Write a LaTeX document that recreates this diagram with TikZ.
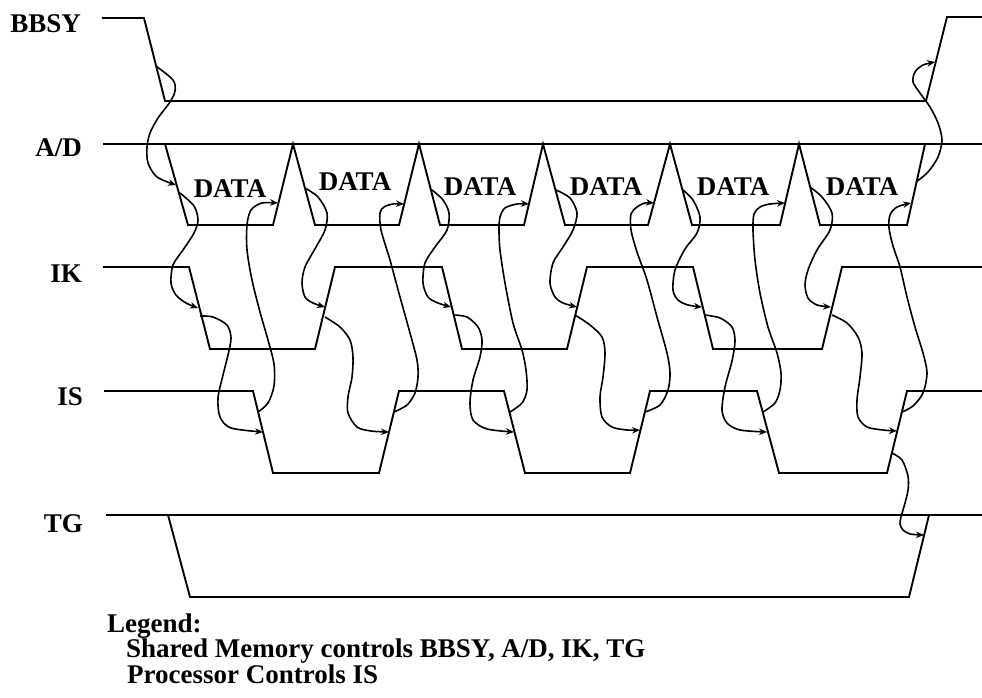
\documentclass[tikz,border=0pt]{standalone}
\usepackage{fontspec}
\setmainfont{Liberation Serif}
\usetikzlibrary{arrows.meta}
\begin{document}
\begin{tikzpicture}[x=1pt,y=-1pt,
  sig/.style={line width=1.9pt, line join=miter},
  cause/.style={line width=1.6pt, -{Stealth[length=8pt,width=6.5pt]}},
  txt/.style={font=\fontsize{27}{28}\selectfont\bfseries, inner sep=0pt},
  lbl/.style={txt, anchor=base east},
  dat/.style={txt, anchor=base},
  leg/.style={txt, anchor=base west}]
\useasboundingbox (0,0) rectangle (982,698);

% ---- signal labels
\node[lbl] (lBBSY) at (81,33) {BBSY};
\node[lbl] (lAD) at (82,157) {A/D};
\node[lbl] (lIK) at (82,282) {IK};
\node[lbl] (lIS) at (83,405) {IS};
\node[lbl] (lTG) at (83,532) {TG};

% ---- BBSY
\draw[sig] (102,18) -- (144,18) -- (165,101) -- (926,101) -- (947,17) -- (982,17);

% ---- A/D
\draw[sig] (103,144) -- (982,144);
\draw[sig] (165,144) -- (188,225) -- (273,225) -- (293,144) -- (315,225) -- (399,225)
  -- (419,144) -- (440,225) -- (524,225) -- (543,144) -- (565,225) -- (648,225)
  -- (670,144) -- (692,225) -- (780,225) -- (799,144) -- (820,225) -- (907,225) -- (925,144);
\node[dat] (d1) at (230,197) {DATA};
\node[dat] (d2) at (355,190) {DATA};
\node[dat] (d3) at (480,195) {DATA};
\node[dat] (d4) at (606,195) {DATA};
\node[dat] (d5) at (733,195) {DATA};
\node[dat] (d6) at (862,195) {DATA};

% ---- IK
\draw[sig] (103,267) -- (189,267) -- (210,349) -- (315,349) -- (335,267) -- (442,267)
  -- (462,349) -- (567,349) -- (587,267) -- (693,267) -- (713,349) -- (822,349)
  -- (842,267) -- (982,267);

% ---- IS
\draw[sig] (104,391) -- (253,391) -- (273,473) -- (379,473) -- (399,391) -- (504,391)
  -- (525,473) -- (630,473) -- (650,391) -- (757,391) -- (779,473) -- (887,473)
  -- (907,391) -- (982,391);

% ---- TG
\draw[sig] (106,515) -- (982,515);
\draw[sig] (168,515) -- (190,597) -- (909,597) -- (929,515);

% ---- causal arrows: start/end points on the edges
\coordinate (s1) at (156,66);   \coordinate (t1) at (176,185);
\coordinate (s2) at (180,193);  \coordinate (t2) at (198,308);
\coordinate (s3) at (200,316);  \coordinate (t3) at (263,432);
\coordinate (s4) at (258,412);  \coordinate (t4) at (278,203);
\coordinate (s5) at (305,188);  \coordinate (t5) at (325,307);
\coordinate (s6) at (325,317);  \coordinate (t6) at (389,432);
\coordinate (s7) at (394,412);  \coordinate (t7) at (404,204);
\coordinate (s8) at (432,190);  \coordinate (t8) at (451,307);
\coordinate (s9) at (454,315);  \coordinate (t9) at (514,432);
\coordinate (s10) at (510,412); \coordinate (t10) at (529,204);
\coordinate (s11) at (556,190); \coordinate (t11) at (577,307);
\coordinate (s12) at (575,315); \coordinate (t12) at (640,430);
\coordinate (s13) at (645,412); \coordinate (t13) at (654,203);
\coordinate (s14) at (683,190); \coordinate (t14) at (702,307);
\coordinate (s15) at (705,315); \coordinate (t15) at (767,432);
\coordinate (s16) at (763,412); \coordinate (t16) at (785,203);
\coordinate (s17) at (810,187); \coordinate (t17) at (831,307);
\coordinate (s18) at (832,315); \coordinate (t18) at (897,431);
\coordinate (s19) at (902,412); \coordinate (t19) at (911,203);
\coordinate (s20) at (916,182); \coordinate (t20) at (935,62);
\coordinate (s21) at (892,453); \coordinate (t21) at (924,535);

\draw[cause] plot[smooth] coordinates {(s1) (173,80) (175,91) (170,102) (158,118) (150,133) (147,147) (148,163) (157,177) (t1)};
\draw[cause] plot[smooth] coordinates {(s2) (194,206) (198,220) (194,233) (183,250) (173,265) (171,283) (176,295) (186,303) (t2)};
\draw[cause] plot[smooth] coordinates {(s3) (213,317) (227,325) (231,338) (228,355) (223,375) (218,398) (220,417) (231,428) (t3)};
\draw[cause] plot[smooth] coordinates {(s4) (268,403) (274,386) (274,364) (268,340) (260,312) (252,280) (247,250) (247,225) (251,210) (262,203) (t4)};
\draw[cause] plot[smooth] coordinates {(s5) (318,197) (327,213) (325,230) (316,247) (305,267) (302,283) (305,297) (313,303) (t5)};
\draw[cause] plot[smooth] coordinates {(s6) (340,327) (350,340) (353,357) (352,377) (348,397) (348,413) (357,427) (371,431) (t6)};
\draw[cause] plot[smooth] coordinates {(s7) (407,405) (415,393) (418,377) (417,360) (410,333) (400,297) (390,260) (381,230) (380,213) (384,207) (393,204) (t7)};
\draw[cause] plot[smooth] coordinates {(s8) (443,200) (449,213) (447,230) (435,247) (425,263) (423,283) (428,297) (438,303) (t8)};
\draw[cause] plot[smooth] coordinates {(s9) (467,317) (478,327) (482,340) (480,357) (473,380) (470,403) (473,420) (487,429) (t9)};
\draw[cause] plot[smooth] coordinates {(s10) (522,403) (527,390) (526,370) (522,350) (513,323) (505,283) (500,250) (499,230) (500,217) (505,208) (517,204) (t10)};
\draw[cause] plot[smooth] coordinates {(s11) (570,198) (577,213) (573,230) (563,247) (553,263) (550,283) (555,297) (563,303) (t11)};
\draw[cause] plot[smooth] coordinates {(s12) (590,325) (602,337) (605,353) (603,377) (600,397) (602,417) (612,427) (627,430) (t12)};
\draw[cause] plot[smooth] coordinates {(s13) (660,405) (668,390) (670,373) (667,353) (657,317) (647,280) (637,252) (631,230) (631,214) (637,207) (645,203) (t13)};
\draw[cause] plot[smooth] coordinates {(s14) (693,200) (700,217) (697,233) (685,249) (675,270) (673,290) (678,300) (688,305) (t14)};
\draw[cause] plot[smooth] coordinates {(s15) (720,318) (732,327) (735,341) (732,361) (725,387) (722,410) (727,423) (740,430) (t15)};
\draw[cause] plot[smooth] coordinates {(s16) (775,403) (780,390) (781,373) (777,353) (768,327) (760,293) (755,260) (753,230) (754,214) (760,207) (770,204) (t16)};
\draw[cause] plot[smooth] coordinates {(s17) (822,197) (832,213) (830,230) (817,250) (808,270) (805,285) (808,298) (817,305) (t17)};
\draw[cause] plot[smooth] coordinates {(s18) (847,323) (858,337) (862,353) (860,377) (857,400) (858,417) (867,427) (883,430) (t18)};
\draw[cause] plot[smooth] coordinates {(s19) (913,406) (923,393) (927,373) (923,353) (915,327) (907,297) (900,267) (893,246) (889,228) (890,215) (897,207) (t19)};
\draw[cause] plot[smooth] coordinates {(s20) (928,172) (938,157) (942,140) (938,123) (930,107) (920,93) (913,82) (915,72) (923,65) (t20)};
\draw[cause] plot[smooth] coordinates {(s21) (902,460) (908,476) (908,490) (905,503) (901,517) (900,524) (903,530) (910,534) (t21)};

% ---- legend
\node[leg] (leg0) at (107,632) {Legend:};
\node[leg] (leg1) at (126,657) {Shared Memory controls BBSY, A/D, IK, TG};
\node[leg] (leg2) at (127,683) {Processor Controls IS};
\end{tikzpicture}
\end{document}
